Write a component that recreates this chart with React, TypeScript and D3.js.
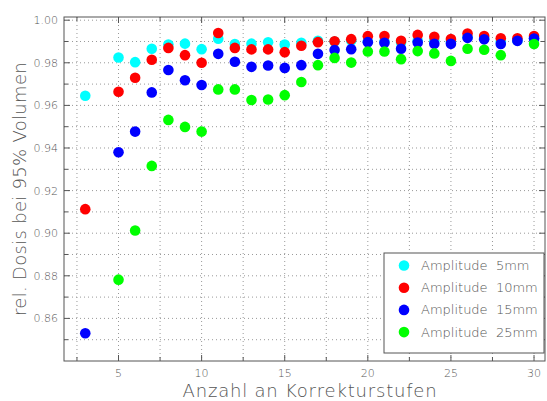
import React from 'react';
import * as d3 from 'd3';

// Anzahl an Korrekturstufen
const steps = [3, 5, 6, 7, 8, 9, 10, 11, 12, 13, 14, 15, 16, 17, 18, 19, 20, 21, 22, 23, 24, 25, 26, 27, 28, 29, 30];

const amp5 = [0.9645, 0.9825, 0.9803, 0.9866, 0.9886, 0.989, 0.9864, 0.9913, 0.9888, 0.989, 0.9896, 0.9886, 0.9894, 0.9903, 0.990, 0.9905, 0.990, 0.990, 0.9895, 0.9905, 0.9905, 0.990, 0.992, 0.9915, 0.990, 0.9905, 0.9915];
const amp10 = [0.9113, 0.9664, 0.973, 0.9814, 0.987, 0.9836, 0.980, 0.994, 0.987, 0.9863, 0.9863, 0.985, 0.988, 0.9897, 0.9901, 0.9911, 0.9925, 0.9926, 0.9903, 0.9931, 0.9922, 0.9912, 0.9937, 0.9926, 0.9915, 0.9915, 0.9926];
const amp15 = [0.853, 0.938, 0.9477, 0.9661, 0.9766, 0.9718, 0.9696, 0.9842, 0.9805, 0.9781, 0.9787, 0.9776, 0.9789, 0.9842, 0.986, 0.9864, 0.9897, 0.9894, 0.9866, 0.9895, 0.9889, 0.9889, 0.9917, 0.991, 0.9888, 0.9903, 0.9914];
const amp25 = [null, 0.8782, 0.9013, 0.9316, 0.9532, 0.9499, 0.9477, 0.9675, 0.9675, 0.9625, 0.9628, 0.9648, 0.971, 0.9789, 0.9823, 0.9801, 0.9853, 0.9853, 0.9817, 0.9855, 0.9844, 0.9809, 0.9866, 0.9861, 0.9836, null, 0.9888];

const seriesNames = ['Amplitude  5mm', 'Amplitude  10mm', 'Amplitude  15mm', 'Amplitude  25mm'];
const seriesColors = ['#00ffff', '#ff0000', '#0000ff', '#00ff00'];
const seriesValues = [amp5, amp10, amp15, amp25];

const xTickLabels = [5, 10, 15, 20, 25, 30];
const yTickLabels = [0.86, 0.88, 0.90, 0.92, 0.94, 0.96, 0.98, 1.00];

export default function App() {
  const width = 547, height = 401;
  const left = 64, right = 545, top = 17, bottom = 361;

  const x = d3.scaleLinear().domain([1.72, 30.66]).range([left, right]);
  const y = d3.scaleLinear().domain([0.84, 1.0015]).range([bottom, top]);

  const xGrid = d3.range(2.5, 30.1, 2.5);
  const yGrid = d3.range(0.85, 1.0001, 0.01);
  const font = '"DejaVu Sans", sans-serif';
  const axisColor = '#555';
  const textColor = '#555';

  return (
    <svg width={width} height={height} style={{ position: 'absolute', left: 0, top: 0, background: '#fff' }}>
      {/* grid */}
      <g stroke="#999" strokeWidth={1} strokeDasharray="1,3">
        {xGrid.map(v => (
          <line key={'gx' + v} x1={x(v)} x2={x(v)} y1={top} y2={bottom} />
        ))}
        {yGrid.map(v => (
          <line key={'gy' + v} x1={left} x2={right} y1={y(v)} y2={y(v)} />
        ))}
      </g>

      {/* ticks */}
      <g stroke={axisColor} strokeWidth={1}>
        {xGrid.map(v => {
          const len = v % 5 === 0 ? 6 : 4;
          return (
            <g key={'tx' + v}>
              <line x1={x(v)} x2={x(v)} y1={bottom} y2={bottom - len} />
              <line x1={x(v)} x2={x(v)} y1={top} y2={top + len} />
            </g>
          );
        })}
        {yGrid.map((v, i) => {
          const len = i % 2 === 1 ? 6 : 4;
          return (
            <g key={'ty' + i}>
              <line x1={left} x2={left + len} y1={y(v)} y2={y(v)} />
              <line x1={right} x2={right - len} y1={y(v)} y2={y(v)} />
            </g>
          );
        })}
      </g>

      {/* points */}
      {seriesValues.map((vals, si) => (
        <g key={'s' + si} fill={seriesColors[si]}>
          {vals.map((v, i) =>
            v == null ? null : <circle key={i} cx={x(steps[i])} cy={y(v)} r={5.3} />
          )}
        </g>
      ))}

      {/* frame */}
      <rect x={left} y={top} width={right - left} height={bottom - top} fill="none" stroke={axisColor} strokeWidth={1} />

      {/* tick labels */}
      <g fontFamily={font} fontSize={11} fill={textColor} fontWeight={300}>
        {xTickLabels.map(v => (
          <text key={'lx' + v} x={x(v)} y={bottom + 16} textAnchor="middle">{v}</text>
        ))}
        {yTickLabels.map(v => (
          <text key={'ly' + v} x={left - 6} y={y(v) + 4} textAnchor="end">{v.toFixed(2)}</text>
        ))}
      </g>

      {/* axis titles */}
      <text x={310} y={397} textAnchor="middle" fontFamily={font} fontSize={18} fontWeight={300} letterSpacing={0.8} fill={textColor}>
        Anzahl an Korrekturstufen
      </text>
      <text transform={`translate(26,${(top + bottom) / 2}) rotate(-90)`} textAnchor="middle" fontFamily={font} fontSize={18} fontWeight={300} letterSpacing={0.3} fill={textColor}>
        rel. Dosis bei 95% Volumen
      </text>

      {/* legend */}
      <g>
        <rect x={384} y={253} width={160} height={100} fill="#fff" stroke={axisColor} strokeWidth={1} />
        {seriesNames.map((name, i) => (
          <g key={'lg' + i}>
            <circle cx={404} cy={265.5 + i * 22.2} r={5.3} fill={seriesColors[i]} />
            <text x={421} y={270 + i * 22.2} fontFamily={font} fontSize={13} fontWeight={300} fill={textColor} style={{ whiteSpace: 'pre' }}>
              {name}
            </text>
          </g>
        ))}
      </g>
    </svg>
  );
}
